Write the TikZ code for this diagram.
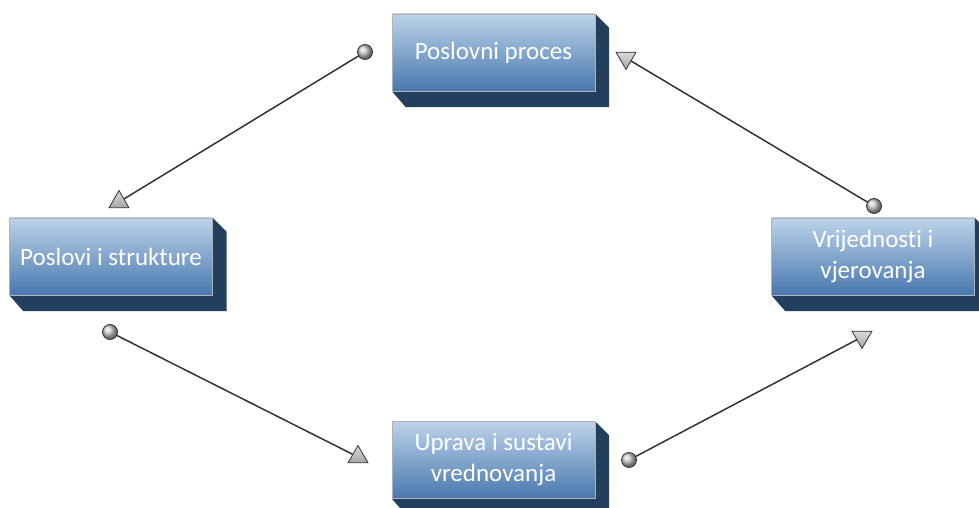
\documentclass[tikz,border=0pt]{standalone}
\usepackage{fontspec}
\setmainfont[Ligatures={NoCommon}]{Carlito}
\usetikzlibrary{shapes.geometric,backgrounds,calc}
\definecolor{boxtop}{HTML}{BDD3EA}
\definecolor{boxbot}{HTML}{4878AE}
\definecolor{boxside}{HTML}{223F5D}
\definecolor{lnc}{HTML}{333333}
\tikzset{
  front/.style={rectangle, minimum width=203pt, minimum height=77pt, inner sep=0pt,
    top color=boxtop, bottom color=boxbot, draw=gray!60, line width=0.4pt,
    text=white, font=\fontsize{25}{31}\selectfont, align=center},
  side/.style={fill=boxside},
  dot/.style={circle, minimum size=15pt, inner sep=0pt, shading=ball, ball color=gray!40, draw=black!80, line width=0.8pt},
  tri/.style={regular polygon, regular polygon sides=3, minimum size=23pt, inner sep=0pt,
    top color=gray!30, bottom color=gray!70, draw=black!80, line width=0.8pt},
  conn/.style={draw=lnc, line width=1.5pt}
}
\newcommand\mybox[4]{%
  \node[front] (#1) at (#2,#3) {#4};
  \begin{scope}[on background layer]
  \fill[side] (#1.north east) -- ++(14,-14) -- ($(#1.south east)+(14,-16)$) -- ($(#1.south west)+(14,-16)$) -- (#1.south west) -- cycle;
  \end{scope}}
\begin{document}
\begin{tikzpicture}[x=1pt,y=1pt]
\useasboundingbox (0,0) rectangle (979,508);
\mybox{pp}{493.5}{455.5}{Poslovni proces}
\mybox{ps}{111}{251.5}{Poslovi i strukture}
\mybox{vv}{873}{251.5}{Vrijednosti i\\vjerovanja}
\mybox{us}{493.5}{48}{Uprava i sustavi\\vrednovanja}
% connectors
\node[dot] (c1) at (365,456) {};
\node[dot] (c2) at (110,176) {};
\node[dot] (c3) at (629,48) {};
\node[dot] (c4) at (874,302) {};
\node[tri, shape border rotate=0] (t1) at (119,306) {};
\node[tri, shape border rotate=0] (t2) at (358,51) {};
\node[tri, shape border rotate=180] (t3) at (862,171) {};
\node[tri, shape border rotate=180] (t4) at (626,450) {};
\begin{scope}[on background layer]
\draw[conn] (c1.center) -- (t1.center);
\draw[conn] (c2.center) -- (t2.center);
\draw[conn] (c3.center) -- (t3.center);
\draw[conn] (c4.center) -- (t4.center);
\end{scope}
\end{tikzpicture}
\end{document}
